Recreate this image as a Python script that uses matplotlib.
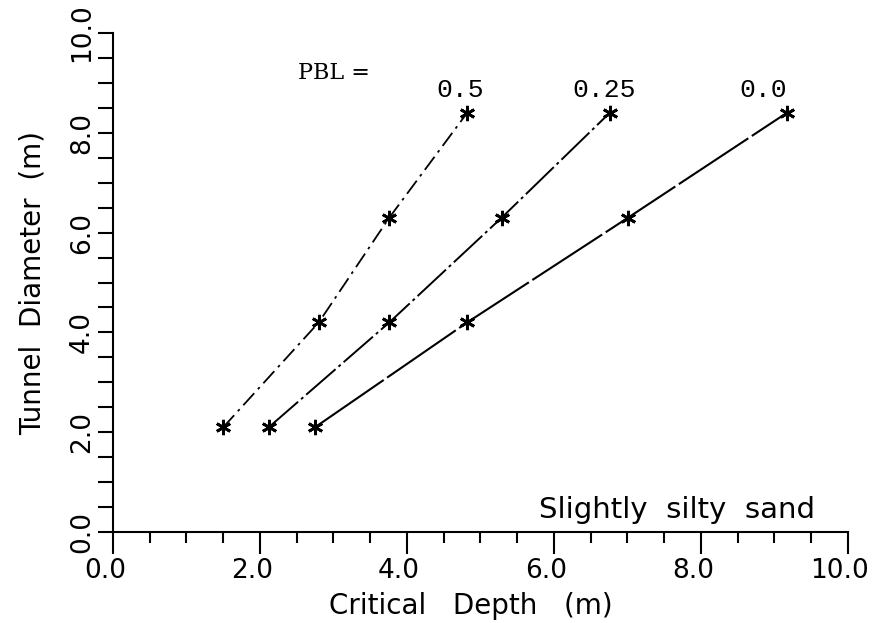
import numpy as np
import matplotlib.pyplot as plt
import matplotlib.transforms as mtransforms
from matplotlib.ticker import MultipleLocator, FormatStrFormatter

# Tunnel diameter (m) for each curve
diameter = [2.1, 4.2, 6.3, 8.4]

# Critical depth (m), one list per PBL value
depth_pbl_05 = [1.50, 2.80, 3.76, 4.82]
depth_pbl_025 = [2.12, 3.76, 5.29, 6.76]
depth_pbl_00 = [2.75, 4.82, 7.01, 9.17]

pbl_labels = ['0.5', '0.25', '0.0']
pbl_label_x = [4.72, 6.69, 8.85]

x_ticks = [0.0, 2.0, 4.0, 6.0, 8.0, 10.0]

fig = plt.figure(figsize=(8.74, 6.23), dpi=100)
ax = fig.add_axes([0.1293, 0.146, 0.8407, 0.801])

# Plot the three curves with star markers
ax.plot(depth_pbl_05, diameter, color='black', lw=1.3, dashes=(9, 3, 1.5, 3),
        marker=(6, 2, 0), markersize=11, markeredgewidth=2)
ax.plot(depth_pbl_025, diameter, color='black', lw=1.4, dashes=(20, 2, 1.5, 2),
        marker=(6, 2, 0), markersize=11, markeredgewidth=2)
ax.plot(depth_pbl_00, diameter, color='black', lw=1.5, dashes=(40, 2),
        marker=(6, 2, 0), markersize=11, markeredgewidth=2)

# Curve labels
ax.text(2.52, 9.2, 'PBL =', family='DejaVu Serif', fontsize=16,
        ha='left', va='center')
for lab, xl in zip(pbl_labels, pbl_label_x):
    ax.text(xl, 8.86, lab, family='Liberation Mono', fontsize=19,
            ha='center', va='center')

ax.text(9.55, 0.44, 'Slightly  silty  sand', fontsize=21, ha='right', va='center')

# Axes limits and ticks
ax.set_xlim(0, 10)
ax.set_ylim(0, 10)
ax.set_xticks(x_ticks)
ax.xaxis.set_minor_locator(MultipleLocator(0.5))
ax.yaxis.set_major_locator(MultipleLocator(2))
ax.yaxis.set_minor_locator(MultipleLocator(0.5))
ax.yaxis.set_major_formatter(FormatStrFormatter('%.1f'))

ax.tick_params(axis='x', which='major', direction='out', length=16, width=1.5,
               labelbottom=False)
ax.tick_params(axis='x', which='minor', direction='out', length=8, width=1.5)
ax.tick_params(axis='y', which='both', direction='out', length=11, width=1.5)
ax.tick_params(axis='y', which='major', labelsize=19, labelrotation=90, pad=2)
for lab in ax.get_yticklabels():
    lab.set_va('center')

# x tick labels sit a little left of their ticks in the original
offset = mtransforms.ScaledTranslation(-0.08, -0.26, fig.dpi_scale_trans)
for v in x_ticks:
    ax.text(v, 0, f'{v:.1f}', fontsize=19, ha='center', va='top',
            transform=ax.get_xaxis_transform() + offset)

for side in ['top', 'right']:
    ax.spines[side].set_visible(False)
for side in ['left', 'bottom']:
    ax.spines[side].set_linewidth(1.5)

ax.set_xlabel('Critical   Depth   (m)', fontsize=20)
ax.xaxis.set_label_coords(0.487, -0.12)
ax.set_ylabel('Tunnel  Diameter  (m)', fontsize=20, labelpad=16)

fig.savefig('out.png', dpi=100)
